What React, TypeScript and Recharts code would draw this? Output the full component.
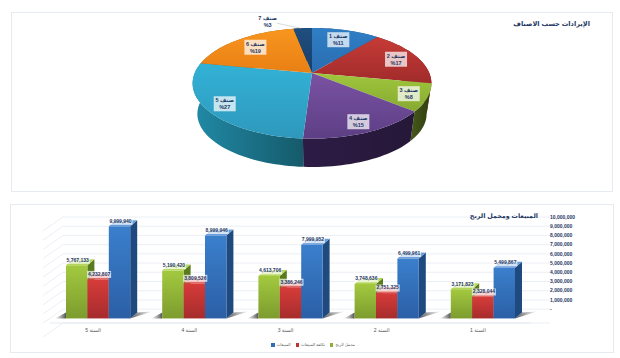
import {
  Bar,
  BarChart,
  CartesianGrid,
  LabelList,
  Legend,
  Pie,
  PieChart,
  XAxis,
  YAxis,
} from "recharts";

// pie data
const pieTitle = "الإيرادات حسب الاصناف";
const pieNames = ["صنف 1", "صنف 2", "صنف 3", "صنف 4", "صنف 5", "صنف 6", "صنف 7"];
const pieShares = [11, 17, 8, 15, 27, 19, 3];

// bar data
const barTitle = "المبيعات ومجمل الربح";
const years = ["السنة 5", "السنة 4", "السنة 3", "السنة 2", "السنة 1"];
const profit = [5767133, 5190420, 4613706, 3748636, 3171823];
const cost = [4232807, 3809526, 3386246, 2751325, 2328044];
const sales = [9999940, 8999946, 7999952, 6499961, 5499867];
const yTicks = [
  0, 1000000, 2000000, 3000000, 4000000, 5000000, 6000000, 7000000, 8000000,
  9000000, 10000000,
];

const pieRows = pieNames.map((name, i) => ({ name, value: pieShares[i] }));
const barRows = years.map((year, i) => ({
  year,
  profit: profit[i],
  cost: cost[i],
  sales: sales[i],
}));

const FONT = '"Liberation Sans", "DejaVu Sans", sans-serif';
const NAVY = "#1f3864";

// pie look: [top from, top to, wall from, wall to]
const pieColors = [
  ["#2f7fc6", "#2a6cb0", "#1e4e80", "#1e4e80"],
  ["#c63b36", "#a02b2b", "#7d2222", "#7d2222"],
  ["#a0c63e", "#86aa30", "#47591a", "#2e3d10"],
  ["#7a52a3", "#5d3f85", "#2d1b45", "#251838"],
  ["#32b2d6", "#2e98bc", "#218aa6", "#155a6b"],
  ["#f8961f", "#e87f14", "#9a5a10", "#9a5a10"],
  ["#1f4e80", "#183f6a", "#12304f", "#12304f"],
];
// label spot along the radius of each slice, slice 7 sits outside with a leader
const labelSpots = [0.75, 0.8, 0.85, 0.85, 0.85, 0.75];

// fake perspective of the tilted disc
const TILT = 0.1867;
const SQUASH = 0.455;
const WALL_DROP = 31;
const WALL_SCALE = 0.96;

function project(cx: number, cy: number, r: number, angle: number, t = 1) {
  const rad = ((90 - angle) * Math.PI) / 180;
  const u = Math.sin(rad) * t;
  const v = Math.cos(rad) * t;
  const d = 1 + TILT * v;
  return [cx + (r * u) / d, cy - (r * SQUASH * v) / d];
}

function arcPoints(cx: number, cy: number, r: number, from: number, to: number) {
  const steps = Math.max(2, Math.ceil(Math.abs(to - from) / 2));
  const pts: number[][] = [];
  for (let i = 0; i <= steps; i++) {
    pts.push(project(cx, cy, r, from + ((to - from) * i) / steps));
  }
  return pts;
}

const toPath = (pts: number[][]) =>
  "M" + pts.map((p) => `${p[0].toFixed(2)},${p[1].toFixed(2)}`).join("L") + "Z";

function SliceTop(props: any) {
  const { cx, cy, outerRadius, startAngle, endAngle, index } = props;
  const pts = [[cx, cy], ...arcPoints(cx, cy, outerRadius, startAngle, endAngle)];
  return <path d={toPath(pts)} fill={`url(#pieTop${index})`} />;
}

function SliceWall(props: any) {
  const { cx, cy, outerRadius, startAngle, endAngle, index } = props;
  const upper = arcPoints(cx, cy, outerRadius, startAngle, endAngle);
  const lower = arcPoints(
    cx,
    cy + WALL_DROP,
    outerRadius * WALL_SCALE,
    startAngle,
    endAngle
  ).reverse();
  return <path d={toPath([...upper, ...lower])} fill={`url(#pieWall${index})`} />;
}

function LabelBox({ x, y, lines, plain }: any) {
  return (
    <g>
      {!plain && (
        <rect x={x - 11} y={y - 7.5} width={22} height={15} fill="#fff" fillOpacity={0.72} />
      )}
      {lines.map((line: string, i: number) => (
        <text
          key={i}
          x={x}
          y={y - 3 + i * 7}
          textAnchor="middle"
          dominantBaseline="middle"
          fontFamily={FONT}
          fontSize={5.5}
          fontWeight={700}
          fill={NAVY}
        >
          {line}
        </text>
      ))}
    </g>
  );
}

function renderPieLabel(props: any) {
  const { cx, cy, outerRadius, midAngle, index, name, value } = props;
  const lines = [name, `%${value}`];
  if (index === pieNames.length - 1) {
    // outside label with the thin leader to the rim
    const rim = project(cx, cy, outerRadius, midAngle);
    const x = rim[0] - 35;
    const y = rim[1] - 7;
    return (
      <g>
        <path d={`M${x + 9},${y + 2}L${rim[0] - 2},${rim[1]}`} stroke="#b9c4cf" strokeWidth={0.6} fill="none" />
        <LabelBox x={x} y={y} lines={lines} plain />
      </g>
    );
  }
  const p = project(cx, cy, outerRadius, midAngle, labelSpots[index]);
  return <LabelBox x={p[0]} y={p[1]} lines={lines} />;
}

// 3d column look
const DEPTH_X = 7;
const DEPTH_Y = 6;
const FRONT_DROP = 9.3;
const COLUMN_WIDTH = 21.4;

const columnColors: Record<string, { from: string; to: string; side: string; top: string }> = {
  profit: { from: "#a3c93f", to: "#7c9c2e", side: "#5a7a1e", top: "#b4d65a" },
  cost: { from: "#d63c3a", to: "#a62c2c", side: "#7d2020", top: "#e06a66" },
  sales: { from: "#3b7fcc", to: "#2b5fa6", side: "#1f4a80", top: "#6a9ddc" },
};

const makeColumn = (key: string) => (props: any) => {
  const { x, y, width, height } = props;
  const c = columnColors[key];
  const top = y + FRONT_DROP;
  const base = top + height;
  const right = x + width;
  return (
    <g>
      {key === "profit" && (
        <path d={`M${x - 11},${base}L${x},${base}L${x},${base - 6}Z`} fill="url(#shadeLeft)" />
      )}
      {key === "sales" && (
        <path
          d={`M${right},${base}L${right + DEPTH_X},${base - DEPTH_Y}L${right + 22},${base - DEPTH_Y - 1}Z`}
          fill="url(#shadeRight)"
        />
      )}
      <path
        d={`M${right},${top}L${right + DEPTH_X},${top - DEPTH_Y}L${right + DEPTH_X},${base - DEPTH_Y}L${right},${base}Z`}
        fill={c.side}
      />
      <path
        d={`M${x},${top}L${x + DEPTH_X},${top - DEPTH_Y}L${right + DEPTH_X},${top - DEPTH_Y}L${right},${top}Z`}
        fill={c.top}
      />
      <rect x={x} y={top} width={width} height={height} fill={`url(#col_${key})`} />
    </g>
  );
};

function renderValue(props: any) {
  const { x, y, width, value } = props;
  const cx = x + width / 2 + 1;
  const cy = y + FRONT_DROP - 5;
  return (
    <g>
      <rect x={cx - 12} y={cy - 3.5} width={24} height={7} fill="#fff" fillOpacity={0.72} />
      <text
        x={cx}
        y={cy}
        textAnchor="middle"
        dominantBaseline="middle"
        fontFamily={FONT}
        fontSize={5}
        fontWeight={700}
        fill={NAVY}
      >
        {Number(value).toLocaleString("en-US")}
      </text>
    </g>
  );
}

// grid lines bend along the left wall and run past the plot on the right
function renderGridLine(props: any) {
  const { x1, x2, y1 } = props;
  return (
    <path
      key={props.key ?? y1}
      d={`M${x1 - 7},${y1 + 14}L${x1 + 13},${y1}L${x2 + 19},${y1}`}
      stroke="#e4ebf2"
      strokeWidth={0.8}
      fill="none"
    />
  );
}

const legendOrder = ["المبيعات", "تكلفة المبيعات", "مجمل الربح"];

function renderLegend({ payload }: any) {
  const items = legendOrder.map((name) =>
    (payload ?? []).find((p: any) => p.value === name)
  );
  return (
    <div style={{ display: "flex", justifyContent: "center", gap: 5, paddingTop: 4, fontFamily: FONT, fontSize: 4, lineHeight: "8px", color: "#555" }}>
      {items.map(
        (item: any) =>
          item && (
            <span key={item.value} style={{ display: "flex", alignItems: "center", gap: 2 }}>
              <span style={{ width: 3.5, height: 3.5, background: item.color }} />
              {item.value}
            </span>
          )
      )}
    </div>
  );
}

const panel = (left: number, top: number, width: number, height: number) =>
  ({
    position: "absolute",
    left,
    top,
    width,
    height,
    boxSizing: "border-box",
    border: "1px solid #e6ebf2",
    background: "#fff",
  }) as const;

const titleStyle = {
  position: "absolute",
  direction: "rtl",
  fontFamily: FONT,
  fontWeight: 700,
  color: NAVY,
  whiteSpace: "nowrap",
  lineHeight: "10px",
} as const;

export default function App() {
  return (
    <div style={{ position: "absolute", left: 0, top: 0, width: 620, height: 358, background: "#fff", overflow: "hidden" }}>
      <div style={panel(11, 12, 602, 180)}>
        <PieChart width={600} height={178} margin={{ top: 0, right: 0, bottom: 0, left: 0 }}>
          <defs>
            {pieColors.map((c, i) => (
              <linearGradient key={i} id={`pieTop${i}`} x1="0" y1="0" x2="0" y2="1">
                <stop offset="0%" stopColor={c[0]} />
                <stop offset="100%" stopColor={c[1]} />
              </linearGradient>
            ))}
            {pieColors.map((c, i) => (
              <linearGradient key={i} id={`pieWall${i}`} x1="0" y1="0" x2="1" y2="0">
                <stop offset="0%" stopColor={c[2]} />
                <stop offset="100%" stopColor={c[3]} />
              </linearGradient>
            ))}
          </defs>
          <Pie
            data={pieRows}
            dataKey="value"
            nameKey="name"
            cx={300}
            cy={60}
            outerRadius={117.3}
            startAngle={90}
            endAngle={-270}
            stroke="none"
            shape={SliceWall}
            isAnimationActive={false}
          />
          <Pie
            data={pieRows}
            dataKey="value"
            nameKey="name"
            cx={300}
            cy={60}
            outerRadius={117.3}
            startAngle={90}
            endAngle={-270}
            stroke="none"
            shape={SliceTop}
            label={renderPieLabel}
            labelLine={false}
            isAnimationActive={false}
          />
        </PieChart>
        <div style={{ ...titleStyle, right: 22, top: 6, fontSize: 6.6 }}>{pieTitle}</div>
      </div>

      <div style={panel(10, 204, 604, 149)}>
        <BarChart
          width={602}
          height={147}
          data={barRows}
          barSize={COLUMN_WIDTH}
          barGap={0}
          margin={{ top: 12, right: 37, bottom: 3, left: 39 }}
        >
          <defs>
            {Object.keys(columnColors).map((key) => (
              <linearGradient key={key} id={`col_${key}`} x1="0" y1="0" x2="0" y2="1">
                <stop offset="0%" stopColor={columnColors[key].from} />
                <stop offset="100%" stopColor={columnColors[key].to} />
              </linearGradient>
            ))}
            <linearGradient id="shadeLeft" x1="0" y1="0" x2="1" y2="0">
              <stop offset="0%" stopColor="#666" stopOpacity={0.05} />
              <stop offset="100%" stopColor="#333" stopOpacity={0.85} />
            </linearGradient>
            <linearGradient id="shadeRight" x1="0" y1="0" x2="1" y2="0">
              <stop offset="0%" stopColor="#333" stopOpacity={0.85} />
              <stop offset="100%" stopColor="#666" stopOpacity={0.05} />
            </linearGradient>
          </defs>
          <CartesianGrid vertical={false} horizontal={renderGridLine} />
          <XAxis
            dataKey="year"
            height={14}
            interval={0}
            axisLine={{ stroke: "#e4ebf2" }}
            tickLine={false}
            tickSize={0}
            tickMargin={5}
            dx={-5}
            tick={{ fontSize: 5, fill: "#555", fontFamily: FONT }}
          />
          <YAxis
            orientation="right"
            width={45}
            domain={[-1505000, 10000000]}
            ticks={yTicks}
            interval={0}
            axisLine={false}
            tickLine={false}
            tickSize={0}
            tickMargin={19}
            tickFormatter={(v: number) => (v === 0 ? "-" : v.toLocaleString("en-US"))}
            tick={{ fontSize: 5, fontWeight: 700, fill: NAVY, fontFamily: FONT }}
          />
          <Legend height={12} content={renderLegend} />
          <Bar dataKey="profit" name="مجمل الربح" fill="#8cb035" shape={makeColumn("profit")} isAnimationActive={false}>
            <LabelList dataKey="profit" content={renderValue} />
          </Bar>
          <Bar dataKey="cost" name="تكلفة المبيعات" fill="#c03232" shape={makeColumn("cost")} isAnimationActive={false}>
            <LabelList dataKey="cost" content={renderValue} />
          </Bar>
          <Bar dataKey="sales" name="المبيعات" fill="#2f6db5" shape={makeColumn("sales")} isAnimationActive={false}>
            <LabelList dataKey="sales" content={renderValue} />
          </Bar>
        </BarChart>
        <div style={{ ...titleStyle, right: 75, top: 6, fontSize: 6.4 }}>{barTitle}</div>
      </div>
    </div>
  );
}
